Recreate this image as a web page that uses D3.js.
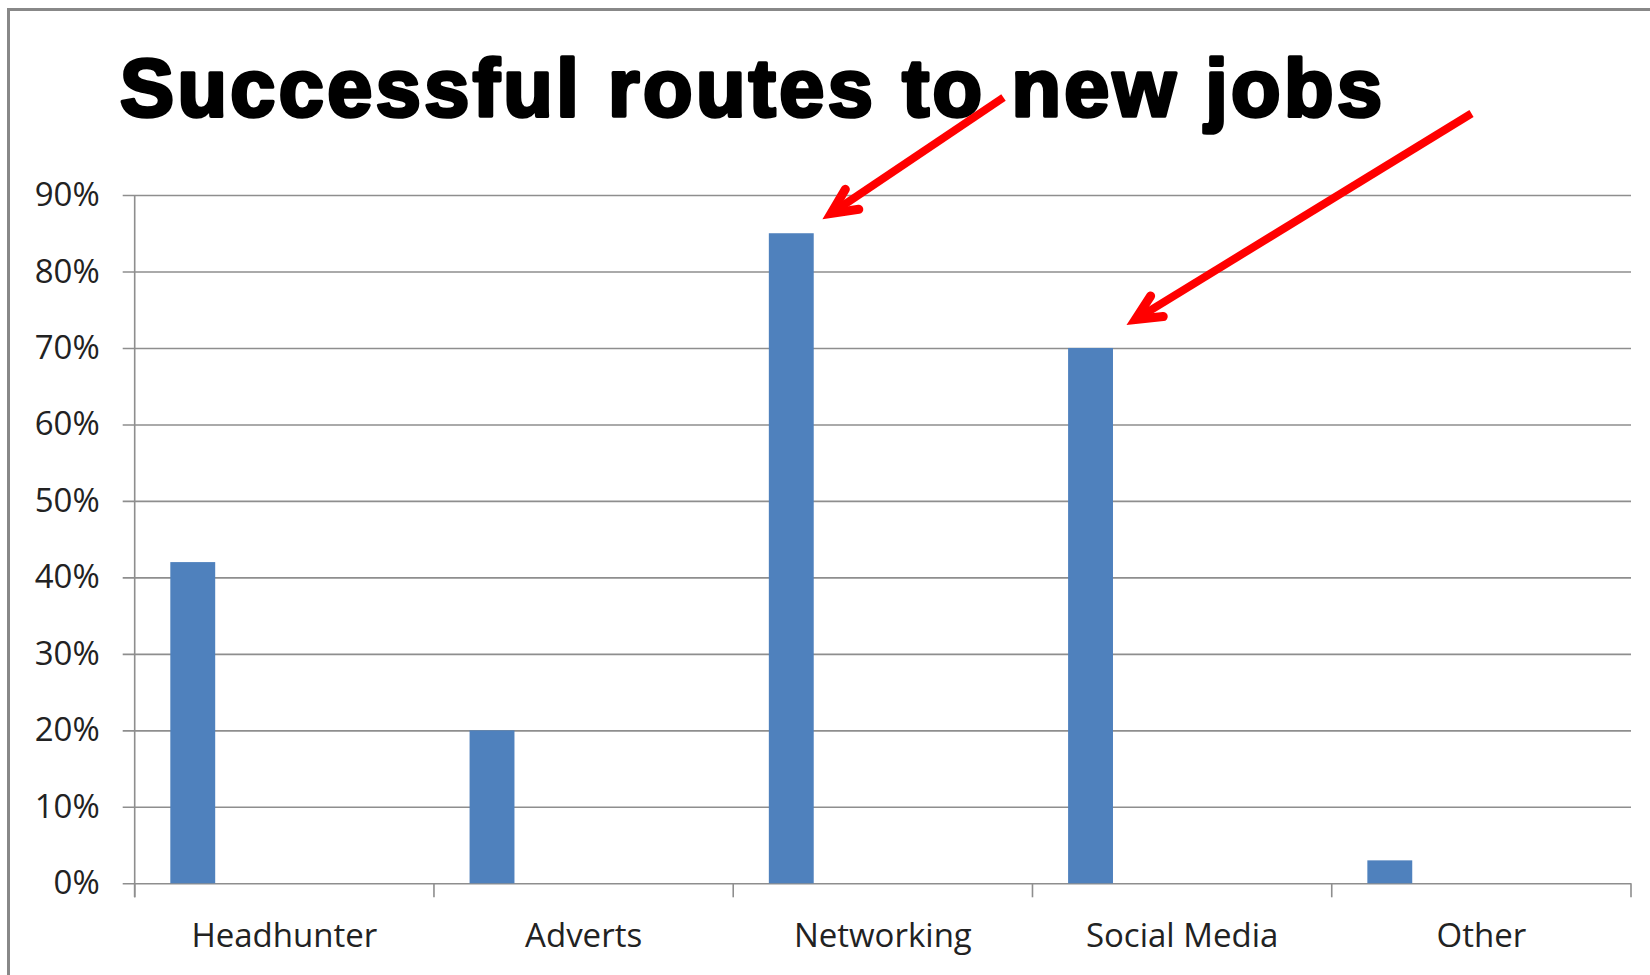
<!DOCTYPE html>
<html>
<head>
<meta charset="utf-8">
<script src="https://cdn.jsdelivr.net/npm/d3@7"></script>
<style>
  html, body { margin: 0; padding: 0; background: #fff; }
  svg { display: block; }
</style>
</head>
<body>
<svg id="chart" width="1650" height="975"></svg>
<script>
(function (d3) {
  'use strict';

  // data
  const categories = ['Headhunter', 'Adverts', 'Networking', 'Social Media', 'Other'];
  const shares = [0.42, 0.20, 0.85, 0.70, 0.03];
  const yTicks = [0, 0.1, 0.2, 0.3, 0.4, 0.5, 0.6, 0.7, 0.8, 0.9];
  const title = 'Successful routes to new jobs';

  // arrows: which bar they point at and where the tail sits
  const arrows = [
    { target: 'Networking', tail: [1003.5, 97.5], tipOffset: [8.7, -14] },
    { target: 'Social Media', tail: [1471.5, 113.5], tipOffset: [13.5, -23] }
  ];

  const data = categories.map((c, i) => ({ name: c, value: shares[i] }));

  const width = 1650, height = 975;
  const margin = { top: 195, right: 19, bottom: 91.7, left: 134.7 };
  const innerWidth = width - margin.left - margin.right;
  const innerHeight = height - margin.top - margin.bottom;

  const svg = d3.select('svg#chart');
  const gridColor = '#8e8e8e';
  const textColor = '#222';
  const labelFont = "'Open Sans', 'Liberation Sans', sans-serif";

  // outer frame (only left + top edges show)
  svg.append('line')
    .attr('x1', 8.5).attr('x2', 8.5).attr('y1', 8).attr('y2', height)
    .attr('stroke', '#888').attr('stroke-width', 3);
  svg.append('line')
    .attr('x1', 7).attr('x2', width).attr('y1', 9.5).attr('y2', 9.5)
    .attr('stroke', '#888').attr('stroke-width', 3);

  // title
  svg.append('text')
    .attr('x', 120)
    .attr('y', 116)
    .attr('font-family', "'Liberation Sans', Arial, sans-serif")
    .attr('font-weight', 'bold')
    .attr('font-size', 81)
    .attr('fill', '#000')
    .attr('stroke', '#000')
    .attr('stroke-width', 3.6)
    .attr('stroke-linejoin', 'round')
    .attr('textLength', 1262)
    .attr('lengthAdjust', 'spacing')
    .text(title);

  const g = svg.append('g')
    .attr('transform', `translate(${margin.left},${margin.top})`);

  const xScale = d3.scaleBand()
    .domain(categories)
    .range([0, innerWidth])
    .padding(0);

  const yScale = d3.scaleLinear()
    .domain([0, 0.9])
    .range([innerHeight, 0]);

  // y axis: gridlines + labels
  const tickOut = 12;
  const yAxis = d3.axisLeft(yScale)
    .tickValues(yTicks)
    .tickFormat(d3.format('.0%'))
    .tickSize(-(innerWidth + tickOut))
    .tickPadding(23);

  const yAxisG = g.append('g')
    .attr('class', 'y-axis')
    .attr('transform', `translate(${-tickOut},0)`)
    .call(yAxis);
  yAxisG.select('.domain').remove();
  yAxisG.selectAll('.tick line')
    .attr('stroke', gridColor)
    .attr('stroke-width', 1.6);
  yAxisG.selectAll('.tick text')
    .attr('font-family', labelFont)
    .attr('font-size', 33)
    .attr('fill', textColor);

  // vertical axis line
  g.append('line')
    .attr('x1', 0).attr('x2', 0)
    .attr('y1', yScale(0.9)).attr('y2', innerHeight + 14)
    .attr('stroke', gridColor).attr('stroke-width', 1.6);

  // x axis boundary ticks
  const boundaries = categories.map(c => xScale(c)).concat([xScale(categories[categories.length - 1]) + xScale.bandwidth()]);
  g.selectAll('.x-tick').data(boundaries)
    .enter().append('line')
      .attr('class', 'x-tick')
      .attr('x1', d => d).attr('x2', d => d)
      .attr('y1', innerHeight).attr('y2', innerHeight + 14)
      .attr('stroke', gridColor).attr('stroke-width', 1.6);

  // x axis labels
  const xAxis = d3.axisBottom(xScale)
    .tickSize(0)
    .tickPadding(40);
  const xAxisG = g.append('g')
    .attr('class', 'x-axis')
    .attr('transform', `translate(0,${innerHeight})`)
    .call(xAxis);
  xAxisG.select('.domain').remove();
  xAxisG.selectAll('.tick text')
    .attr('font-family', labelFont)
    .attr('font-size', 33)
    .attr('fill', textColor);

  // bars
  const bw = xScale.bandwidth();
  const barOffset = bw * 0.119;
  const barWidth = bw * 0.150;

  g.selectAll('rect.bar').data(data)
    .enter().append('rect')
      .attr('class', 'bar')
      .attr('x', d => xScale(d.name) + barOffset)
      .attr('y', d => yScale(d.value))
      .attr('width', barWidth)
      .attr('height', d => innerHeight - yScale(d.value))
      .attr('fill', '#4f81bd');

  // arrows
  const lineW = 8;
  const headHalf = 25.5 * Math.PI / 180;
  const armLen = 28;

  arrows.forEach(a => {
    const d = data.find(e => e.name === a.target);
    const tip = [
      margin.left + xScale(d.name) + barOffset + barWidth + a.tipOffset[0],
      margin.top + yScale(d.value) + a.tipOffset[1]
    ];
    const dx = a.tail[0] - tip[0], dy = a.tail[1] - tip[1];
    const len = Math.hypot(dx, dy);
    const ux = dx / len, uy = dy / len;
    const back = (lineW + 1) / 2 / Math.sin(headHalf);
    const vx = tip[0] + ux * back, vy = tip[1] + uy * back;
    const ang = Math.atan2(uy, ux);

    svg.append('line')
      .attr('x1', a.tail[0]).attr('y1', a.tail[1])
      .attr('x2', vx + ux * 6).attr('y2', vy + uy * 6)
      .attr('stroke', '#ff0000')
      .attr('stroke-width', lineW);

    const arm = s => [vx + Math.cos(ang + s * headHalf) * armLen, vy + Math.sin(ang + s * headHalf) * armLen];
    const p1 = arm(-1), p2 = arm(1);
    svg.append('path')
      .attr('d', `M${p1[0]},${p1[1]}L${vx},${vy}L${p2[0]},${p2[1]}`)
      .attr('fill', 'none')
      .attr('stroke', '#ff0000')
      .attr('stroke-width', lineW + 1)
      .attr('stroke-linecap', 'round')
      .attr('stroke-linejoin', 'miter')
      .attr('stroke-miterlimit', 10);
  });

}(d3));
</script>
</body>
</html>
